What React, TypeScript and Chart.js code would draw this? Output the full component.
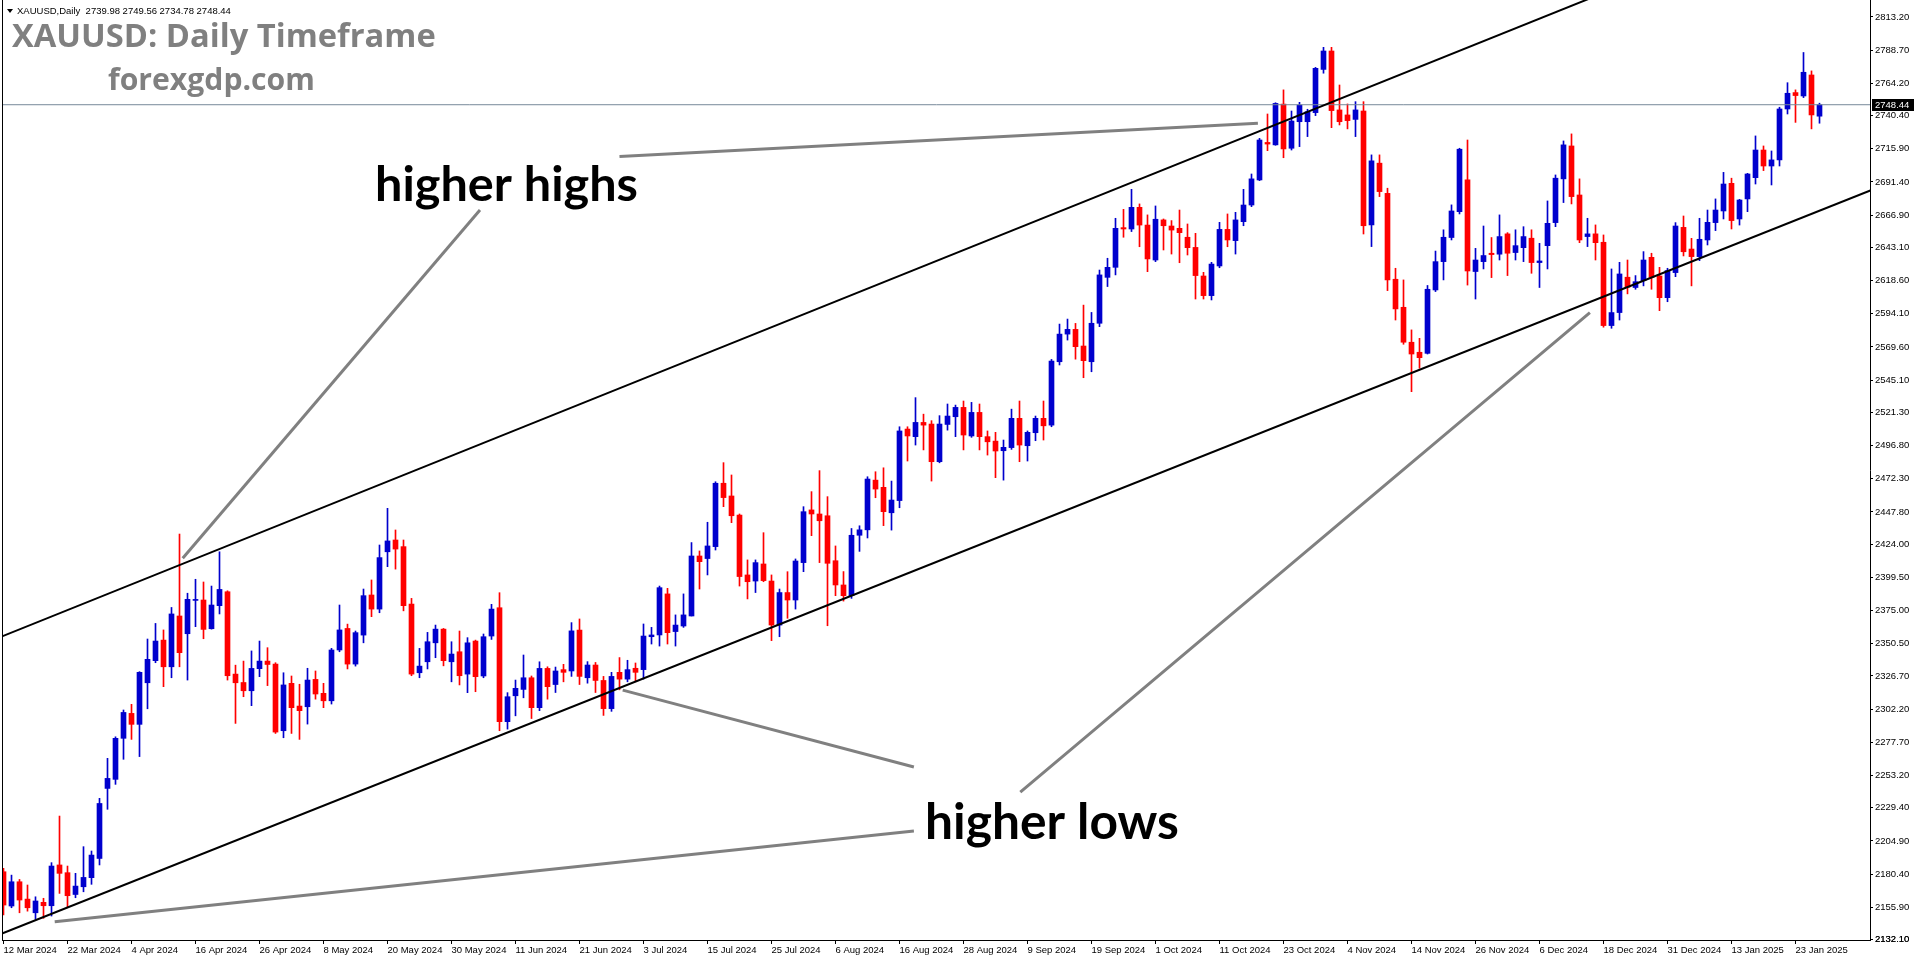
import { useEffect, useRef } from 'react';
import { Chart, registerables } from 'chart.js';

Chart.register(...registerables);

// ---------- DATA ----------
const dateTickLabels = [
  '12 Mar 2024', '22 Mar 2024', '4 Apr 2024', '16 Apr 2024', '26 Apr 2024', '8 May 2024', '20 May 2024',
  '30 May 2024', '11 Jun 2024', '21 Jun 2024', '3 Jul 2024', '15 Jul 2024', '25 Jul 2024', '6 Aug 2024',
  '16 Aug 2024', '28 Aug 2024', '9 Sep 2024', '19 Sep 2024', '1 Oct 2024', '11 Oct 2024', '23 Oct 2024',
  '4 Nov 2024', '14 Nov 2024', '26 Nov 2024', '6 Dec 2024', '18 Dec 2024', '31 Dec 2024', '13 Jan 2025',
  '23 Jan 2025',
];
const barsPerDateLabel = 8;

const priceTicks = [
  2813.2, 2788.7, 2764.2, 2740.4, 2715.9, 2691.4, 2666.9, 2643.1, 2618.6, 2594.1, 2569.6, 2545.1, 2521.3,
  2496.8, 2472.3, 2447.8, 2424.0, 2399.5, 2375.0, 2350.5, 2326.7, 2302.2, 2277.7, 2253.2, 2229.4, 2204.9,
  2180.4, 2155.9, 2132.1,
];

const opens = [
  2182.2, 2156.9, 2174.8, 2162.0, 2151.9, 2159.6, 2157.1, 2187.2, 2181.5, 2165.4,
  2171.1, 2177.8, 2192.0, 2243.7, 2250.4, 2280.7, 2299.1, 2291.0, 2321.7, 2338.0,
  2353.2, 2333.5, 2371.0, 2357.9, 2382.5, 2382.8, 2361.6, 2378.6, 2388.9, 2328.1,
  2321.9, 2315.8, 2332.1, 2337.7, 2335.5, 2286.3, 2321.3, 2304.5, 2304.0, 2324.2,
  2313.9, 2308.4, 2345.9, 2361.8, 2335.5, 2356.9, 2386.5, 2376.1, 2418.4, 2427.1,
  2422.2, 2379.8, 2329.1, 2337.2, 2351.2, 2361.3, 2337.2, 2344.6, 2328.1, 2352.5,
  2326.7, 2356.2, 2377.1, 2293.0, 2312.1, 2316.8, 2325.4, 2303.3, 2332.3, 2320.4,
  2331.4, 2330.4, 2360.6, 2325.4, 2334.8, 2323.4, 2302.6, 2329.4, 2324.4, 2332.4,
  2331.4, 2355.7, 2357.0, 2387.3, 2359.5, 2363.6, 2371.0, 2415.3, 2413.4, 2422.2,
  2469.0, 2459.6, 2445.5, 2401.3, 2396.8, 2409.4, 2396.8, 2364.3, 2388.3, 2382.8,
  2410.4, 2449.3, 2446.3, 2445.0, 2411.8, 2393.9, 2386.0, 2430.6, 2434.6, 2471.3,
  2466.0, 2447.2, 2456.2, 2509.0, 2503.4, 2513.9, 2512.7, 2484.9, 2512.4, 2518.1,
  2525.0, 2503.9, 2521.3, 2503.4, 2500.1, 2493.0, 2495.3, 2516.9, 2496.7, 2506.3,
  2516.9, 2511.9, 2558.7, 2579.1, 2582.6, 2570.3, 2558.7, 2587.1, 2621.0, 2628.4,
  2657.7, 2656.7, 2672.7, 2659.6, 2633.8, 2663.4, 2658.9, 2657.2, 2650.6, 2643.1,
  2622.0, 2607.5, 2629.4, 2656.4, 2648.1, 2662.1, 2674.4, 2692.9, 2720.6, 2718.8,
  2748.9, 2716.3, 2735.9, 2735.9, 2742.6, 2774.5, 2788.1, 2744.6, 2740.9, 2737.6,
  2743.8, 2659.7, 2705.3, 2683.0, 2619.6, 2598.9, 2573.1, 2565.7, 2564.9, 2611.7,
  2632.6, 2650.4, 2669.5, 2693.0, 2625.3, 2632.6, 2638.8, 2638.1, 2653.1, 2639.3,
  2642.9, 2649.9, 2631.9, 2644.4, 2661.4, 2693.7, 2718.0, 2681.8, 2651.1, 2653.1,
  2646.9, 2585.4, 2595.0, 2621.1, 2613.5, 2618.5, 2635.8, 2622.0, 2606.0, 2624.5,
  2657.9, 2641.9, 2636.3, 2648.6, 2661.4, 2670.0, 2690.4, 2664.1, 2678.9, 2694.6,
  2715.0, 2703.2, 2707.7, 2745.3, 2757.4, 2754.9, 2770.4, 2739.98,
];

const highs = [
  2184.7, 2179.7, 2176.5, 2172.4, 2163.7, 2162.6, 2188.9, 2223.3, 2186.4, 2181.0,
  2200.7, 2197.5, 2236.4, 2265.9, 2281.8, 2301.6, 2305.8, 2329.9, 2354.0, 2365.5,
  2360.7, 2377.3, 2431.5, 2387.8, 2398.1, 2396.1, 2393.1, 2418.4, 2389.6, 2334.7,
  2337.7, 2345.2, 2352.5, 2347.6, 2336.5, 2329.1, 2326.7, 2320.6, 2332.4, 2330.4,
  2321.3, 2347.1, 2379.1, 2365.0, 2359.9, 2390.9, 2397.6, 2423.4, 2450.5, 2434.5,
  2427.1, 2384.0, 2347.1, 2358.9, 2364.3, 2361.8, 2352.0, 2359.9, 2355.0, 2353.2,
  2357.7, 2379.6, 2388.2, 2314.4, 2323.7, 2342.2, 2326.7, 2337.2, 2333.5, 2333.3,
  2335.3, 2366.1, 2368.8, 2337.3, 2336.7, 2326.4, 2329.4, 2340.3, 2338.3, 2336.3,
  2365.1, 2362.6, 2393.1, 2391.4, 2371.8, 2387.3, 2425.2, 2419.0, 2440.2, 2470.1,
  2484.2, 2475.1, 2446.3, 2412.4, 2412.4, 2432.5, 2401.3, 2390.9, 2403.7, 2413.1,
  2451.7, 2462.8, 2478.3, 2459.1, 2422.7, 2403.8, 2435.6, 2437.6, 2473.8, 2477.5,
  2480.4, 2470.6, 2510.7, 2510.7, 2532.2, 2520.0, 2515.2, 2518.9, 2527.5, 2526.7,
  2529.7, 2528.7, 2527.5, 2507.6, 2506.6, 2500.9, 2523.7, 2529.7, 2507.6, 2518.6,
  2529.7, 2560.4, 2586.5, 2590.2, 2587.0, 2600.5, 2595.1, 2626.4, 2635.1, 2664.6,
  2671.2, 2686.0, 2675.2, 2667.1, 2673.7, 2664.1, 2662.9, 2670.7, 2660.4, 2653.5,
  2624.7, 2632.1, 2661.6, 2667.8, 2669.0, 2686.0, 2697.3, 2723.6, 2741.6, 2749.9,
  2759.4, 2743.8, 2750.2, 2745.1, 2776.0, 2790.8, 2790.8, 2763.0, 2749.0, 2750.7,
  2750.7, 2711.4, 2711.4, 2686.8, 2627.7, 2619.1, 2582.2, 2576.0, 2615.0, 2640.4,
  2656.1, 2674.5, 2716.3, 2722.4, 2642.4, 2658.9, 2650.4, 2667.1, 2654.0, 2656.1,
  2658.4, 2656.1, 2646.1, 2677.4, 2696.6, 2721.7, 2726.9, 2693.7, 2664.6, 2659.7,
  2652.3, 2627.2, 2632.1, 2633.8, 2622.3, 2640.0, 2638.8, 2628.4, 2627.7, 2661.4,
  2666.3, 2649.8, 2664.6, 2670.7, 2678.9, 2698.5, 2694.2, 2678.6, 2697.8, 2725.4,
  2718.0, 2714.3, 2746.6, 2764.7, 2759.4, 2787.0, 2773.4, 2749.56,
];

const lows = [
  2150.3, 2155.6, 2151.9, 2153.1, 2147.1, 2147.8, 2149.5, 2166.2, 2155.6, 2163.0,
  2167.4, 2172.9, 2187.2, 2228.3, 2246.7, 2265.2, 2279.9, 2267.2, 2302.5, 2336.5,
  2318.8, 2325.4, 2333.5, 2323.7, 2363.1, 2354.2, 2361.3, 2372.5, 2323.7, 2291.7,
  2311.4, 2304.8, 2326.2, 2319.6, 2284.3, 2281.1, 2284.3, 2279.9, 2291.2, 2309.6,
  2303.3, 2306.0, 2344.6, 2331.9, 2334.0, 2351.2, 2370.5, 2373.4, 2407.4, 2405.6,
  2374.8, 2326.9, 2325.4, 2331.9, 2340.2, 2334.2, 2322.4, 2320.1, 2314.4, 2315.1,
  2325.4, 2353.7, 2286.3, 2287.5, 2297.3, 2310.6, 2295.3, 2301.1, 2309.6, 2314.5,
  2322.4, 2326.4, 2320.4, 2321.4, 2314.5, 2297.6, 2300.6, 2316.5, 2322.4, 2322.4,
  2324.4, 2350.3, 2348.8, 2350.3, 2348.8, 2362.6, 2371.0, 2390.9, 2401.3, 2419.7,
  2451.7, 2439.9, 2393.1, 2383.6, 2388.3, 2396.3, 2352.8, 2355.7, 2369.3, 2376.1,
  2403.7, 2430.3, 2410.4, 2363.8, 2386.0, 2382.0, 2384.0, 2418.7, 2428.6, 2458.3,
  2437.7, 2434.4, 2450.9, 2485.4, 2497.2, 2493.6, 2470.6, 2484.1, 2508.2, 2503.4,
  2493.6, 2502.9, 2493.6, 2489.8, 2473.1, 2471.3, 2494.0, 2484.9, 2485.4, 2500.4,
  2500.9, 2510.7, 2556.3, 2574.7, 2560.6, 2546.9, 2551.3, 2584.6, 2614.2, 2622.8,
  2650.6, 2654.8, 2643.6, 2625.2, 2632.6, 2641.2, 2638.2, 2631.8, 2637.5, 2605.0,
  2605.0, 2604.3, 2628.1, 2643.6, 2638.2, 2659.1, 2673.2, 2692.4, 2714.5, 2718.5,
  2709.3, 2715.0, 2717.5, 2724.9, 2740.4, 2771.7, 2731.5, 2733.5, 2730.6, 2724.9,
  2653.0, 2643.7, 2680.6, 2611.2, 2589.5, 2571.6, 2536.6, 2553.9, 2564.4, 2610.5,
  2619.1, 2648.6, 2667.8, 2615.3, 2605.0, 2627.2, 2620.8, 2633.8, 2622.3, 2633.8,
  2632.6, 2624.0, 2613.5, 2627.2, 2658.4, 2676.2, 2675.2, 2646.6, 2643.7, 2633.8,
  2584.2, 2583.4, 2589.5, 2608.8, 2612.2, 2614.7, 2612.2, 2596.4, 2603.0, 2621.5,
  2636.8, 2614.7, 2633.3, 2644.9, 2655.5, 2664.1, 2656.7, 2659.6, 2669.5, 2689.9,
  2699.8, 2689.2, 2703.2, 2741.6, 2735.4, 2753.7, 2730.6, 2734.78,
];

const closes = [
  2157.6, 2174.8, 2161.3, 2155.6, 2160.6, 2157.1, 2186.4, 2181.0, 2164.5, 2171.6,
  2178.0, 2194.5, 2232.6, 2251.1, 2280.7, 2299.8, 2291.0, 2329.4, 2339.0, 2352.5,
  2333.5, 2372.5, 2343.9, 2383.3, 2383.0, 2361.1, 2379.1, 2390.6, 2326.9, 2321.7,
  2315.8, 2332.3, 2337.7, 2335.2, 2285.3, 2320.1, 2303.3, 2301.1, 2323.7, 2313.4,
  2308.4, 2345.9, 2360.7, 2335.5, 2358.7, 2386.0, 2376.1, 2414.1, 2426.4, 2420.4,
  2378.6, 2328.1, 2334.0, 2352.0, 2361.3, 2338.0, 2342.9, 2326.9, 2351.2, 2326.2,
  2355.7, 2376.1, 2293.0, 2311.4, 2317.6, 2325.4, 2303.3, 2332.3, 2318.8, 2330.4,
  2329.4, 2360.0, 2326.4, 2334.8, 2323.4, 2302.6, 2326.4, 2324.4, 2331.4, 2329.4,
  2356.2, 2357.0, 2391.9, 2358.7, 2364.3, 2371.8, 2415.3, 2411.1, 2422.7, 2469.0,
  2458.4, 2445.0, 2400.1, 2396.3, 2410.4, 2397.1, 2364.3, 2388.3, 2382.8, 2411.6,
  2448.0, 2446.3, 2441.3, 2409.9, 2393.9, 2386.0, 2430.6, 2434.6, 2472.1, 2464.7,
  2448.0, 2456.6, 2507.6, 2503.9, 2513.9, 2511.9, 2484.9, 2512.7, 2518.6, 2525.0,
  2504.6, 2521.3, 2503.4, 2499.6, 2492.8, 2495.5, 2516.9, 2497.2, 2506.6, 2516.9,
  2511.4, 2559.2, 2579.1, 2582.6, 2569.8, 2559.5, 2587.1, 2622.8, 2628.4, 2657.2,
  2656.7, 2672.7, 2659.6, 2634.6, 2663.9, 2659.1, 2655.9, 2654.0, 2642.9, 2622.3,
  2607.5, 2630.8, 2656.4, 2648.6, 2663.4, 2674.4, 2693.7, 2722.4, 2719.4, 2749.4,
  2715.8, 2736.4, 2748.2, 2743.3, 2775.3, 2788.1, 2744.1, 2735.9, 2736.7, 2744.6,
  2659.1, 2707.0, 2684.3, 2619.1, 2597.7, 2573.1, 2564.4, 2561.7, 2612.2, 2632.6,
  2650.6, 2670.0, 2715.6, 2625.7, 2633.8, 2637.1, 2637.8, 2651.1, 2638.8, 2644.4,
  2651.1, 2631.9, 2633.1, 2660.9, 2694.2, 2718.8, 2680.6, 2648.6, 2653.1, 2646.6,
  2585.4, 2595.0, 2623.5, 2613.7, 2617.8, 2633.8, 2621.0, 2606.0, 2626.0, 2658.9,
  2639.9, 2636.3, 2649.1, 2661.6, 2670.7, 2689.9, 2662.9, 2678.1, 2697.3, 2715.0,
  2703.2, 2707.7, 2745.3, 2756.9, 2755.2, 2772.4, 2740.9, 2748.44,
];

// Channel lines (bar index, price)
const upperChannelX = [-0.15, 210];
const upperChannelY = [2356.0, 2854.7];
const lowerChannelX = [-0.15, 240];
const lowerChannelY = [2136.7, 2700.7];

// Gray annotation arrows (bar index, price)
const higherHighsArrow1X = [77.0, 156.8];
const higherHighsArrow1Y = [2710.3, 2734.7];
const higherHighsArrow2X = [59.56, 22.4];
const higherHighsArrow2Y = [2670.7, 2413.6];
const higherLowsArrow1X = [113.8, 77.4];
const higherLowsArrow1Y = [2259.5, 2316.3];
const higherLowsArrow2X = [113.8, 6.4];
const higherLowsArrow2Y = [2212.2, 2145.3];
const higherLowsArrow3X = [127.1, 198.3];
const higherLowsArrow3Y = [2241.0, 2594.9];

// ---------- STYLE ----------
const BLUE = '#0000cd';
const RED = '#ff0000';
const GRAY = '#808080';
const AXIS_FONT = { family: '"Liberation Sans", Arial, sans-serif', size: 9.5 };
const X_MIN = -0.0625;
const X_MAX = X_MIN + 1867 / 8;
const Y_MIN = 2131.8;
const Y_MAX = 2825.75;

const pts = (xs: number[], ys: number[]) => xs.map((x, i) => ({ x, y: ys[i] }));

function fitText(ctx: CanvasRenderingContext2D, text: string, family: string, x: number, baseline: number, width: number, color: string) {
  ctx.font = `700 100px ${family}`;
  const w = ctx.measureText(text).width;
  const size = (100 * width) / w;
  ctx.font = `700 ${size}px ${family}`;
  ctx.fillStyle = color;
  ctx.textBaseline = 'alphabetic';
  ctx.textAlign = 'left';
  ctx.fillText(text, x, baseline);
}

const overlayPlugin = {
  id: 'overlay',
  afterDraw(chart: any) {
    const { ctx, chartArea, scales } = chart;
    const last = closes.length - 1;
    ctx.save();
    // left frame line
    ctx.fillStyle = '#000';
    ctx.fillRect(2, 0, 1, chartArea.bottom + 1);

    // make sure the lowest price label (sitting on the bottom edge) is visible
    const items = scales.y._labelItems || [];
    const lowItem = items[items.length - 1];
    if (lowItem && lowItem.options && lowItem.options.translation) {
      const [lx, ly] = lowItem.options.translation;
      ctx.fillStyle = '#000';
      ctx.font = `${AXIS_FONT.size}px ${AXIS_FONT.family}`;
      ctx.textBaseline = 'middle';
      ctx.textAlign = 'left';
      ctx.fillText(String(lowItem.label), lx, ly);
    }

    // current price box
    const py = Math.round(scales.y.getPixelForValue(closes[last]));
    ctx.fillStyle = '#000';
    ctx.fillRect(1872, py - 6, 42, 12);
    ctx.fillStyle = '#fff';
    ctx.font = `${AXIS_FONT.size}px ${AXIS_FONT.family}`;
    ctx.textBaseline = 'middle';
    ctx.textAlign = 'left';
    ctx.fillText(closes[last].toFixed(2), 1875, py + 0.5);

    // header
    ctx.fillStyle = '#000';
    ctx.beginPath();
    ctx.moveTo(7, 9);
    ctx.lineTo(13, 9);
    ctx.lineTo(10, 13);
    ctx.closePath();
    ctx.fill();
    ctx.textBaseline = 'alphabetic';
    const header = `XAUUSD,Daily  ${opens[last].toFixed(2)} ${highs[last].toFixed(2)} ${lows[last].toFixed(2)} ${closes[last].toFixed(2)}`;
    ctx.fillText(header, 17, 14);

    // big labels
    fitText(ctx, 'XAUUSD: Daily Timeframe', '"Open Sans", sans-serif', 12, 47, 424, GRAY);
    fitText(ctx, 'forexgdp.com', '"Open Sans", sans-serif', 108, 90, 207, GRAY);
    fitText(ctx, 'higher highs', 'Lato, sans-serif', 375, 201, 263, '#000');
    fitText(ctx, 'higher lows', 'Lato, sans-serif', 925, 839, 254, '#000');
    ctx.restore();
  },
};

export default function App() {
  const ref = useRef<HTMLCanvasElement | null>(null);

  useEffect(() => {
    document.body.style.margin = '0';
    const canvas = ref.current;
    if (!canvas) return;
    const idx = opens.map((_, i) => i);
    const colors = idx.map((i) => (closes[i] >= opens[i] ? BLUE : RED));
    const bodies = idx.map((i) => ({ x: i, y: [opens[i], closes[i]] }));
    const wicks = idx.map((i) => ({ x: i, y: [lows[i], highs[i]] }));
    const last = closes.length - 1;

    const grayLine = (xs: number[], ys: number[]) => ({
      type: 'line' as const,
      data: pts(xs, ys),
      borderColor: GRAY,
      borderWidth: 3,
      pointRadius: 0,
      tension: 0,
      order: 0,
    });

    const chart = new Chart(canvas, {
      type: 'bar',
      data: {
        datasets: [
          grayLine(higherHighsArrow1X, higherHighsArrow1Y),
          grayLine(higherHighsArrow2X, higherHighsArrow2Y),
          grayLine(higherLowsArrow1X, higherLowsArrow1Y),
          grayLine(higherLowsArrow2X, higherLowsArrow2Y),
          grayLine(higherLowsArrow3X, higherLowsArrow3Y),
          {
            type: 'line',
            data: pts(upperChannelX, upperChannelY),
            borderColor: '#000',
            borderWidth: 2,
            pointRadius: 0,
            tension: 0,
            order: 1,
          },
          {
            type: 'line',
            data: pts(lowerChannelX, lowerChannelY),
            borderColor: '#000',
            borderWidth: 2,
            pointRadius: 0,
            tension: 0,
            order: 1,
          },
          {
            type: 'line',
            data: [
              { x: X_MIN - 1, y: closes[last] },
              { x: X_MAX + 1, y: closes[last] },
            ],
            borderColor: '#778899',
            borderWidth: 1,
            pointRadius: 0,
            order: 2,
          },
          {
            type: 'bar',
            data: bodies as any,
            backgroundColor: colors,
            borderWidth: 0,
            barThickness: 5,
            grouped: false,
            minBarLength: 1,
            order: 3,
          },
          {
            type: 'bar',
            data: wicks as any,
            backgroundColor: colors,
            borderWidth: 0,
            barThickness: 1,
            grouped: false,
            order: 4,
          },
        ] as any,
      },
      options: {
        responsive: false,
        animation: false,
        devicePixelRatio: 1,
        events: [],
        layout: { padding: { left: 3, right: 0, top: 0, bottom: 0 } },
        plugins: {
          legend: { display: false },
          tooltip: { enabled: false },
          title: { display: false },
        },
        scales: {
          x: {
            type: 'linear',
            position: 'bottom',
            min: X_MIN,
            max: X_MAX,
            offset: false,
            grid: { display: true, drawOnChartArea: false, drawTicks: true, tickLength: 4, color: '#000', offset: false },
            border: { display: true, color: '#000', width: 1 },
            ticks: {
              autoSkip: false,
              maxRotation: 0,
              minRotation: 0,
              align: 'start',
              padding: 1,
              color: '#000',
              font: AXIS_FONT,
              callback: (_v: any, i: number) => dateTickLabels[i] ?? '',
            },
            afterBuildTicks: (s: any) => {
              s.ticks = dateTickLabels.map((_, k) => ({ value: k * barsPerDateLabel }));
            },
            afterFit: (s: any) => {
              s.height = 24;
              s.paddingLeft = 0;
              s.paddingRight = 0;
            },
          },
          y: {
            type: 'linear',
            position: 'right',
            min: Y_MIN,
            max: Y_MAX,
            grid: { display: true, drawOnChartArea: false, drawTicks: true, tickLength: 3, color: '#000' },
            border: { display: true, color: '#000', width: 1 },
            ticks: {
              autoSkip: false,
              padding: 2,
              color: '#000',
              font: AXIS_FONT,
              callback: (v: any) => Number(v).toFixed(2),
            },
            afterBuildTicks: (s: any) => {
              s.ticks = priceTicks.map((v) => ({ value: v }));
            },
            afterFit: (s: any) => {
              s.width = 46;
              s.paddingTop = 0;
              s.paddingBottom = 0;
            },
          },
        } as any,
      },
      plugins: [overlayPlugin],
    });
    return () => chart.destroy();
  }, []);

  return (
    <div style={{ width: 1916, height: 964, background: '#fff' }}>
      <canvas ref={ref} width={1916} height={964} style={{ display: 'block', width: 1916, height: 964 }} />
    </div>
  );
}
